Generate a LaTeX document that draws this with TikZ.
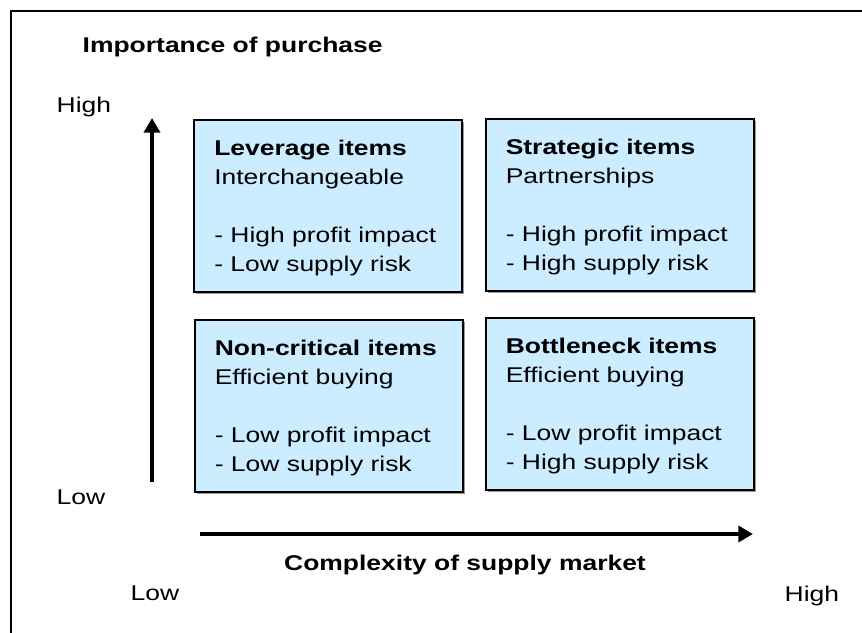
\documentclass[tikz,border=0pt]{standalone}
\usepackage{fontspec}
\setmainfont[FakeStretch=1.24]{Liberation Sans}
\usetikzlibrary{arrows.meta,shadows}
\definecolor{boxblue}{RGB}{204,236,255}

\begin{document}
\begin{tikzpicture}[x=0.75pt,y=-0.75pt,>={Triangle[length=11pt,width=12pt]},
  font=\fontsize{16}{21.75}\selectfont,
  itembox/.style={draw,line width=1.5pt,fill=boxblue,minimum width=201pt,minimum height=129pt,inner sep=0pt,
    drop shadow={shadow xshift=1.5pt,shadow yshift=-1.5pt,fill=gray!80,opacity=1}},
  itemtext/.style={anchor=north west,align=left,inner sep=0pt},
  axisarrow/.style={line width=3pt,->}]
\useasboundingbox (0,0) rectangle (862,632);
\clip (0,0) rectangle (862,632);
\draw[line width=1.5pt] (11,11) rectangle (880,650);

% the four quadrants
\node[itembox] (lev) at (328,206) {};
\node[itembox] (strat) at (619.5,204.5) {};
\node[itembox] (noncrit) at (328.5,405.5) {};
\node[itembox] (bottle) at (619.5,404) {};

\node[itemtext] (levtxt) at ([shift={(21,21)}]lev.north west)
  {\textbf{Leverage items}\\Interchangeable\\[21.75pt]- High profit impact\\- Low supply risk};
\node[itemtext] (strattxt) at ([shift={(21,21)}]strat.north west)
  {\textbf{Strategic items}\\Partnerships\\[21.75pt]- High profit impact\\- High supply risk};
\node[itemtext] (noncrittxt) at ([shift={(21,21)}]noncrit.north west)
  {\textbf{Non-critical items}\\Efficient buying\\[21.75pt]- Low profit impact\\- Low supply risk};
\node[itemtext] (bottletxt) at ([shift={(21,21)}]bottle.north west)
  {\textbf{Bottleneck items}\\Efficient buying\\[21.75pt]- Low profit impact\\- High supply risk};

% axes
\coordinate (ybot) at (152,482);
\coordinate (ytop) at (152,118);
\coordinate (xleft) at (200,534);
\coordinate (xright) at (753,534);
\draw[axisarrow] (ybot) -- (ytop);
\draw[axisarrow] (xleft) -- (xright);

\node[anchor=west,font=\fontsize{16}{21.75}\selectfont\bfseries] (ytitle) at (78,47) {Importance of purchase};
\node[anchor=west] (yhigh) at (52,107) {High};
\node[anchor=west] (ylow) at (52,497) {Low};
\node[font=\fontsize{16}{21.75}\selectfont\bfseries] (xtitle) at (465,565) {Complexity of supply market};
\node[anchor=west] (xlow) at (126,593) {Low};
\node[anchor=west] (xhigh) at (780,596) {High};
\end{tikzpicture}
\end{document}
